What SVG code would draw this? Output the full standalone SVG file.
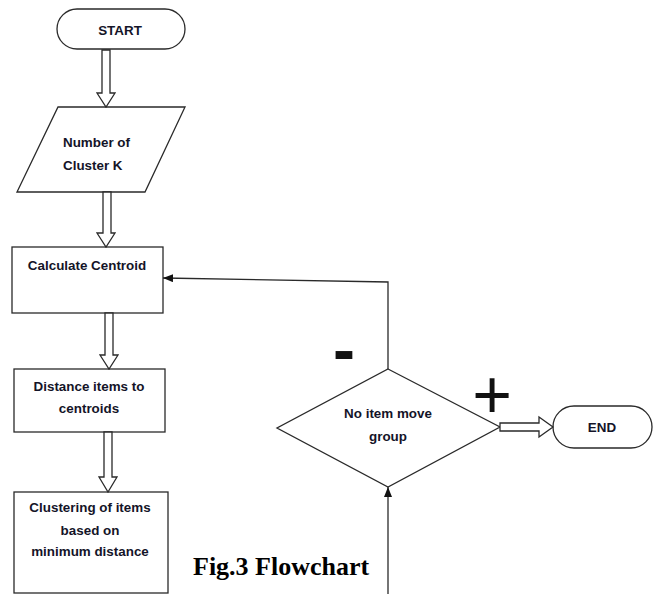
<svg xmlns="http://www.w3.org/2000/svg" width="659" height="594" viewBox="0 0 659 594">
<style>
.s{fill:#fff;stroke:#2a2a2a;stroke-width:1.3}
.t{font-family:"Liberation Sans",Arial,sans-serif;font-weight:bold;font-size:13.4px;fill:#141428}
.c{text-anchor:middle}
.ln{fill:none;stroke:#2a2a2a;stroke-width:1.3}
</style>
<defs>
<marker id="ah" viewBox="0 0 10 8" refX="10" refY="4" markerWidth="10" markerHeight="8" markerUnits="userSpaceOnUse" orient="auto">
<path d="M0,0 L10,4 L0,8 Z" fill="#111"/>
</marker>
</defs>
<rect width="659" height="594" fill="#fff"/>
<g id="start">
<rect class="s" x="57" y="9" width="128" height="40" rx="20"/>
<text class="t c" x="120" y="35">START</text>
</g>
<g id="input">
<polygon class="s" points="58,107 185,107 145,192 17,192"/>
<text class="t" x="63" y="147">Number of</text>
<text class="t" x="63" y="170">Cluster K</text>
</g>
<g id="calc">
<rect class="s" x="12" y="247" width="151" height="66"/>
<text class="t c" x="87" y="270">Calculate Centroid</text>
</g>
<g id="distance">
<rect class="s" x="14" y="369" width="151" height="63"/>
<text class="t c" x="89" y="391">Distance items to</text>
<text class="t c" x="89" y="413">centroids</text>
</g>
<g id="clustering">
<rect class="s" x="14" y="492" width="154" height="101"/>
<text class="t c" x="90" y="512">Clustering of items</text>
<text class="t c" x="90" y="535">based on</text>
<text class="t c" x="90" y="556">minimum distance</text>
</g>
<g id="decision">
<polygon class="s" points="388,369 500,427 388,487 277,428"/>
<text class="t c" x="388" y="418">No item move</text>
<text class="t c" x="388" y="441">group</text>
</g>
<g id="end">
<rect class="s" x="553" y="406" width="99" height="42" rx="21"/>
<text class="t c" x="602" y="432">END</text>
</g>
<g id="connectors">
<polygon class="s" points="102,50 110,50 110,93 115,93 106,107 97,93 102,93"/>
<polygon class="s" points="103,192 111,192 111,233 115,233 106,247 97,233 103,233"/>
<polygon class="s" points="105,313 113,313 113,355 118,355 109,369 100,355 105,355"/>
<polygon class="s" points="104,432 112,432 112,477 117,477 108,492 99,477 104,477"/>
<polygon class="s" points="500,423 539,423 539,417 553,427 539,437 539,431 500,431"/>
<polyline class="ln" points="388,369 388,282 163,278" marker-end="url(#ah)"/>
<line class="ln" x1="388" y1="594" x2="388" y2="487" marker-end="url(#ah)"/>
<text x="344" y="372" font-family="Liberation Sans,Arial,sans-serif" font-weight="bold" font-size="66" fill="#111" text-anchor="middle">-</text>
<text x="492" y="418" font-family="Liberation Sans,Arial,sans-serif" font-size="68" fill="#111" text-anchor="middle">+</text>
</g>
<text x="193" y="575" font-family="Liberation Serif,Times New Roman,serif" font-weight="bold" font-size="26" fill="#000">Fig.3 Flowchart</text>
</svg>
